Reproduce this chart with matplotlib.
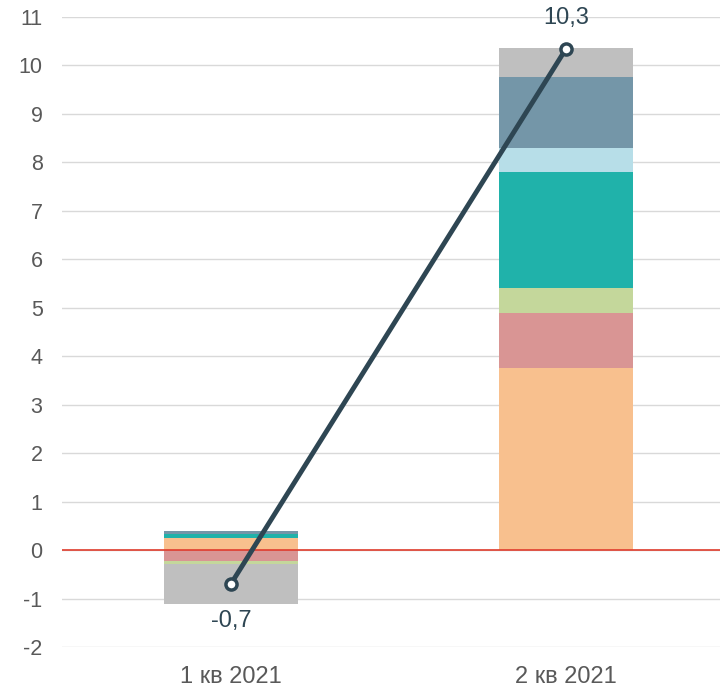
import matplotlib

matplotlib.use("Agg")
import matplotlib.pyplot as plt
import numpy as np

plt.rcParams["font.family"] = ["Liberation Sans", "DejaVu Sans"]
plt.rcParams["axes.unicode_minus"] = False

categories = ["1 кв 2021", "2 кв 2021"]
# stacked components, bottom to top
orange = [0.24, 3.76]
pink = [-0.22, 1.13]
green = [-0.07, 0.52]
teal = [0.10, 2.39]
light_blue = [0.0, 0.50]
steel = [0.05, 1.46]
gray = [-0.83, 0.60]
total = [-0.7, 10.34]

series = [orange, pink, green, teal, light_blue, steel, gray]
colors = ["#F8C08E", "#D99594", "#C4D79B", "#20B2AA", "#B7DEE8", "#7496A8", "#BFBFBF"]

fig = plt.figure(figsize=(7.2, 6.89), dpi=100)
ax = fig.add_axes([62 / 720, 42 / 689, 658 / 720, 630 / 689])

x = np.arange(len(categories))
pos_base = np.zeros(len(categories))
neg_base = np.zeros(len(categories))
for vals, col in zip(series, colors):
    vals = np.array(vals)
    bottoms = np.where(vals >= 0, pos_base, neg_base)
    ax.bar(x, vals, width=0.4, bottom=bottoms, color=col, zorder=2)
    pos_base = pos_base + np.where(vals >= 0, vals, 0)
    neg_base = neg_base + np.where(vals < 0, vals, 0)

ax.axhline(0, color="#E03C2D", lw=1.2, zorder=3)

ax.plot(x, total, color="#2E4653", lw=3.5, marker="o", ms=8,
        mfc="white", mec="#2E4653", mew=2.5, zorder=4)

offsets = [-27, 22]
for xi, v, off in zip(x, total, offsets):
    ax.annotate(f"{v:.1f}".replace(".", ","), (xi, v), xytext=(0, off),
                textcoords="offset points", ha="center", va="center",
                fontsize=17, color="#2E4653", zorder=5)

ax.set_xlim(-0.504, 1.46)
ax.set_ylim(-2, 11)
ax.set_yticks(range(-2, 12))
ax.set_xticks(x)
ax.set_xticklabels(categories)
ax.grid(axis="y", color="#D9D9D9", lw=1, zorder=0)
ax.set_axisbelow(True)
for s in ax.spines.values():
    s.set_visible(False)
ax.tick_params(length=0, colors="#595959")
ax.tick_params(axis="y", labelsize=15.5, pad=14)
ax.tick_params(axis="x", labelsize=17, pad=14)

fig.savefig("out.png")
